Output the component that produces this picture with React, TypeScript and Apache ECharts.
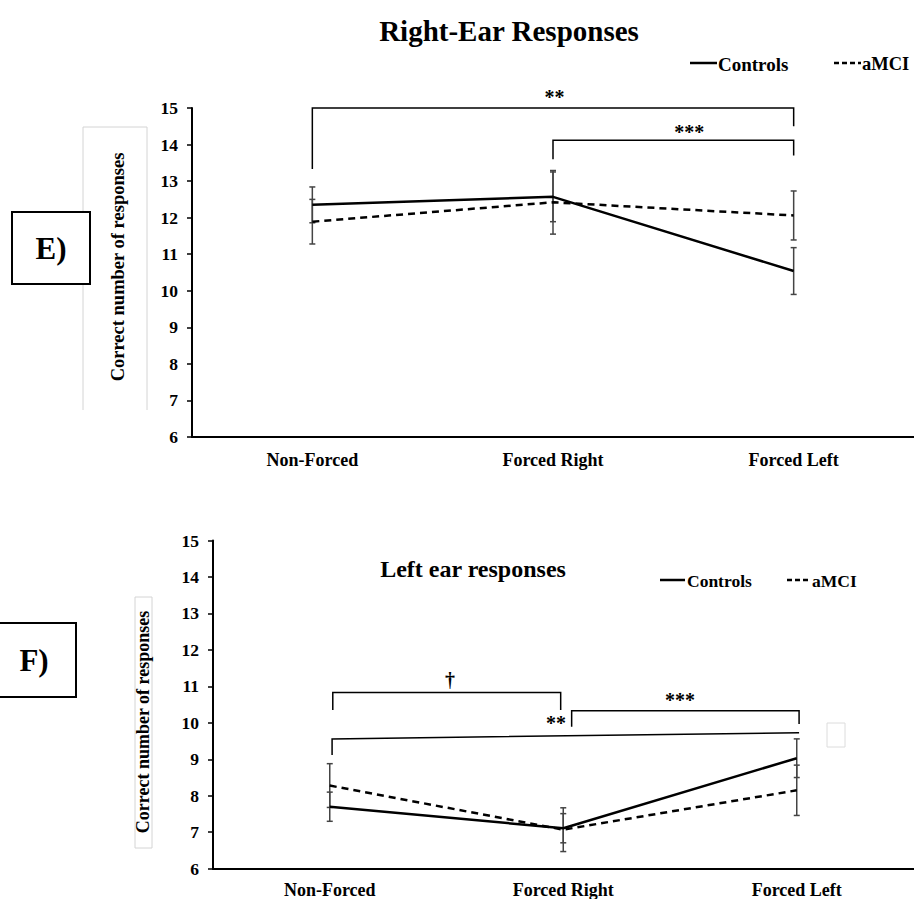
import React, { useEffect, useRef } from "react";
import * as echarts from "echarts";

const categories = ["Non-Forced", "Forced Right", "Forced Left"];

// Right-ear responses (panel E)
const rightControls = [12.35, 12.57, 10.54];
const rightControlsErr = [0.49, 0.68, 0.64];
const rightAMCI = [11.89, 12.42, 12.06];
const rightAMCIErr = [0.61, 0.87, 0.67];

// Left-ear responses (panel F)
const leftControls = [7.7, 7.11, 9.03];
const leftControlsErr = [0.4, 0.4, 0.53];
const leftAMCI = [8.28, 7.07, 8.15];
const leftAMCIErr = [0.6, 0.6, 0.69];

// Significance brackets: [x1, x2, yLeftBottom, yLeftTop, yRightTop, yRightBottom]
const rightBrackets = [
  [0, 2, 13.33, 15.0, 15.0, 14.5],
  [1, 2, 13.6, 14.12, 14.12, 13.7],
];
const leftBrackets = [
  [0.013, 0.989, 10.35, 10.83, 10.83, 10.35],
  [1.036, 2.01, 9.89, 10.33, 10.33, 9.97],
  [0.01, 2.01, 9.12, 9.56, 9.73, 9.73],
];
// Significance marks: [x, y]
const rightMarks = [
  [1.006, 15.3],
  [1.566, 14.34],
];
const rightMarkLabels = ["**", "***"];
const leftMarks = [
  [0.515, 11.17],
  [1.5, 10.63],
  [0.969, 10.0],
];
const leftMarkLabels = ["\u2020", "***", "**"];

const FONT = "Liberation Serif, Times New Roman, serif";

function errData(vals: number[], errs: number[]) {
  return vals.map((v, i) => [i, v - errs[i], v + errs[i]]);
}

const errRender = (params: any, api: any) => {
  const lo = api.coord([api.value(0), api.value(1)]);
  const hi = api.coord([api.value(0), api.value(2)]);
  const cap = 3;
  const style = { stroke: "#444", lineWidth: 1.5, fill: "none" };
  return {
    type: "group",
    children: [
      { type: "line", shape: { x1: lo[0], y1: lo[1], x2: hi[0], y2: hi[1] }, style },
      { type: "line", shape: { x1: lo[0] - cap, y1: lo[1], x2: lo[0] + cap, y2: lo[1] }, style },
      { type: "line", shape: { x1: hi[0] - cap, y1: hi[1], x2: hi[0] + cap, y2: hi[1] }, style },
    ],
  };
};

const bracketRender = (params: any, api: any) => {
  const x1 = api.value(0);
  const x2 = api.value(1);
  const pts = [
    api.coord([x1, api.value(2)]),
    api.coord([x1, api.value(3)]),
    api.coord([x2, api.value(4)]),
    api.coord([x2, api.value(5)]),
  ];
  return {
    type: "polyline",
    shape: { points: pts },
    style: { stroke: "#000", lineWidth: 1.5, fill: "none" },
  };
};

const markRender = (labels: string[]) => (params: any, api: any) => {
  const p = api.coord([api.value(0), api.value(1)]);
  return {
    type: "text",
    x: p[0],
    y: p[1],
    style: {
      text: labels[params.dataIndex],
      fontFamily: FONT,
      fontWeight: "bold",
      fontSize: 20,
      fill: "#000",
      align: "center",
      verticalAlign: "middle",
    },
  };
};

function txt(x: number, y: number, text: string, size: number, align: string, rotation = 0) {
  return {
    type: "text",
    x,
    y,
    rotation,
    style: {
      text,
      fontFamily: FONT,
      fontWeight: "bold",
      fontSize: size,
      fill: "#000",
      align,
      verticalAlign: "middle",
    },
  };
}

export default function App() {
  const ref = useRef<HTMLDivElement>(null);
  useEffect(() => {
    if (!ref.current) return;
    const chart = echarts.init(ref.current, null, { renderer: "svg" });

    const yAxisBase = (gridIndex: number) => ({
      type: "value",
      gridIndex,
      min: 6,
      max: 15,
      interval: 1,
      splitLine: { show: false },
      axisLine: { show: true, onZero: false, lineStyle: { color: "#000", width: 2 } },
      axisTick: { show: true, length: 5, lineStyle: { color: "#000", width: 1.5 } },
      axisLabel: { color: "#000", fontFamily: FONT, fontWeight: "bold", fontSize: 17.5, margin: 14 },
    });
    const xCat = (gridIndex: number, margin: number) => ({
      type: "category",
      gridIndex,
      data: categories,
      boundaryGap: true,
      axisLine: { show: true, onZero: false, lineStyle: { color: "#000", width: 2 } },
      axisTick: { show: false },
      axisLabel: { color: "#000", fontFamily: FONT, fontWeight: "bold", fontSize: 18, margin },
    });
    const xVal = (gridIndex: number) => ({
      type: "value",
      gridIndex,
      min: -0.5,
      max: 2.5,
      show: false,
      axisLine: { onZero: false },
      splitLine: { show: false },
    });

    const lineSeries = (name: string, data: number[], xi: number, yi: number, dashed: boolean) => ({
      type: "line",
      name,
      xAxisIndex: xi,
      yAxisIndex: yi,
      data,
      symbol: "none",
      z: 5,
      lineStyle: { color: "#000", width: 2.5, type: dashed ? [7, 5] : "solid" },
    });
    const errSeries = (vals: number[], errs: number[], xi: number, yi: number) => ({
      type: "custom",
      xAxisIndex: xi,
      yAxisIndex: yi,
      data: errData(vals, errs),
      encode: { x: 0, y: [1, 2] },
      renderItem: errRender,
      z: 3,
    });

    chart.setOption({
      animation: false,
      backgroundColor: "#fff",
      grid: [
        { left: 192, top: 108, width: 722, height: 329 },
        { left: 213, top: 540.5, width: 700.5, height: 328.2 },
      ],
      xAxis: [xCat(0, 14), xCat(1, 12), xVal(0), xVal(1)],
      yAxis: [yAxisBase(0), yAxisBase(1)],
      series: [
        errSeries(rightControls, rightControlsErr, 2, 0),
        errSeries(rightAMCI, rightAMCIErr, 2, 0),
        errSeries(leftControls, leftControlsErr, 3, 1),
        errSeries(leftAMCI, leftAMCIErr, 3, 1),
        lineSeries("Controls", rightControls, 0, 0, false),
        lineSeries("aMCI", rightAMCI, 0, 0, true),
        lineSeries("Controls", leftControls, 1, 1, false),
        lineSeries("aMCI", leftAMCI, 1, 1, true),
        { type: "custom", xAxisIndex: 2, yAxisIndex: 0, data: rightBrackets, renderItem: bracketRender, z: 4 },
        { type: "custom", xAxisIndex: 3, yAxisIndex: 1, data: leftBrackets, renderItem: bracketRender, z: 4 },
        { type: "custom", xAxisIndex: 2, yAxisIndex: 0, data: rightMarks, renderItem: markRender(rightMarkLabels), z: 6 },
        { type: "custom", xAxisIndex: 3, yAxisIndex: 1, data: leftMarks, renderItem: markRender(leftMarkLabels), z: 6 },
      ],
      graphic: [
        // Panel E decorations
        txt(509, 31, "Right-Ear Responses", 29, "center"),
        { type: "line", shape: { x1: 690, y1: 63, x2: 717, y2: 63 }, style: { stroke: "#000", lineWidth: 2.5 } },
        txt(718, 64, "Controls", 19, "left"),
        { type: "line", shape: { x1: 834, y1: 63, x2: 861, y2: 63 }, style: { stroke: "#000", lineWidth: 2.5, lineDash: [5, 3] } },
        txt(862, 64, "aMCI", 18.5, "left"),
        {
          type: "polyline",
          shape: { points: [[83, 410], [83, 127], [147, 127], [147, 410]] },
          style: { stroke: "#d4d4d4", lineWidth: 1, fill: "none" },
        },
        txt(118, 267, "Correct number of responses", 18.5, "center", Math.PI / 2),
        { type: "rect", shape: { x: 12, y: 212, width: 78, height: 72 }, style: { stroke: "#000", lineWidth: 2, fill: "#fff" } },
        txt(51, 248, "E)", 31, "center"),
        // Panel F decorations
        txt(473, 569, "Left ear responses", 24, "center"),
        { type: "line", shape: { x1: 660, y1: 580, x2: 685, y2: 580 }, style: { stroke: "#000", lineWidth: 2.5 } },
        txt(687, 581, "Controls", 17.5, "left"),
        { type: "line", shape: { x1: 787, y1: 580, x2: 810, y2: 580 }, style: { stroke: "#000", lineWidth: 2.5, lineDash: [5, 3] } },
        txt(812, 581, "aMCI", 17.5, "left"),
        { type: "rect", shape: { x: 135, y: 597, width: 17, height: 251 }, style: { stroke: "#d4d4d4", lineWidth: 1, fill: "none" } },
        txt(143, 722, "Correct number of responses", 18, "center", Math.PI / 2),
        { type: "rect", shape: { x: -2, y: 623, width: 78, height: 74 }, style: { stroke: "#000", lineWidth: 2, fill: "#fff" } },
        txt(34, 660, "F)", 31, "center"),
        { type: "rect", shape: { x: 827, y: 723, width: 18, height: 24 }, style: { stroke: "#dcdcdc", lineWidth: 1, fill: "none" } },
      ],
    });
    return () => chart.dispose();
  }, []);
  return <div ref={ref} style={{ position: "absolute", left: 0, top: 0, width: 914, height: 899 }} />;
}
